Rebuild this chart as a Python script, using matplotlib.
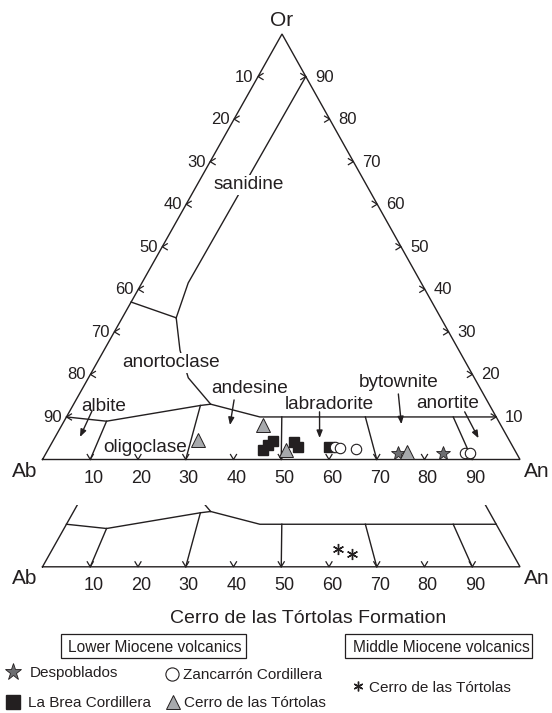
import matplotlib
matplotlib.use("Agg")
import matplotlib.pyplot as plt
import numpy as np
from matplotlib.patches import Rectangle

plt.rcParams["font.family"] = ["Liberation Sans", "DejaVu Sans"]

INK = "#231f20"

# ternary corners, in figure pixels (Ab, An, Or)
AB = (42.5, 459.5)
AN = (520.0, 459.5)
OR = (282.0, 34.0)
STRIP_DY = 107.3  # enlarged strip below the triangle
STRIP_TOP = 505.0

tick_values = [10, 20, 30, 40, 50, 60, 70, 80, 90]

# field boundaries (An %, Or %)
sanidine_an = [10.0, 9.7, 11.3]
sanidine_or = [90.0, 41.5, 33.3]
anortho_left_an = [0.0, 11.3]
anortho_left_or = [37.0, 33.3]
anortho_down_an = [11.3, 15.9, 20.9, 28.7]
anortho_down_or = [33.3, 25.7, 19.2, 13.0]
plag_top_an = [0.0, 8.9, 26.7, 28.7, 40.5, 90.0]
plag_top_or = [10.0, 9.0, 12.7, 13.0, 10.0, 10.0]
divider_an = [(8.9, 10.0), (26.7, 30.0), (45.1, 50.0), (62.6, 70.0), (81.0, 90.0)]
divider_or = [(9.0, 0.0), (12.7, 0.0), (10.0, 0.0), (10.0, 0.0), (10.0, 0.0)]

# label pointer arrows (start -> end), An %, Or %
pointer_an = [(4.65, 5.2), (33.1, 35.2), (52.4, 55.5), (66.8, 71.0), (82.8, 88.8)]
pointer_or = [(11.4, 5.3), (14.0, 8.1), (11.2, 5.05), (15.4, 8.3), (11.2, 5.0)]

# samples (An %, Or %)
despoblados_an = [73.7, 83.1]
despoblados_or = [1.6, 1.5]
zancarron_an = [59.8, 61.0, 64.5, 87.8, 88.8]
zancarron_or = [3.0, 2.6, 2.4, 1.5, 1.5]
labrea_an = [45.1, 45.5, 46.1, 50.6, 52.0, 58.5]
labrea_or = [2.2, 3.4, 4.3, 4.1, 2.9, 2.9]
tortolas_low_an = [30.3, 42.2, 49.8, 75.4]
tortolas_low_or = [4.6, 8.1, 2.2, 1.8]
tortolas_mid_an = [59.8, 63.3]
tortolas_mid_or = [4.3, 3.0]


def tern(an, orr, dy=0.0):
    a = np.asarray(an, dtype=float) / 100.0
    o = np.asarray(orr, dtype=float) / 100.0
    x = AB[0] + a * (AN[0] - AB[0]) + o * (OR[0] - AB[0])
    y = AB[1] + a * (AN[1] - AB[1]) + o * (OR[1] - AB[1]) + dy
    return x, y


fig = plt.figure(figsize=(5.52, 7.13), dpi=100)
ax = fig.add_axes([0, 0, 1, 1])
ax.set_xlim(0, 552)
ax.set_ylim(713, 0)
ax.axis("off")

strip_clip = Rectangle((0, STRIP_TOP), 552, 713 - STRIP_TOP, transform=ax.transData)


def line(an, orr, dy=0.0, clip=None):
    x, y = tern(an, orr, dy)
    ln, = ax.plot(x, y, color=INK, lw=1.0, solid_joinstyle="miter", zorder=2)
    if clip is not None:
        ln.set_clip_path(clip)


def chevron(x, y, d1, d2):
    ax.plot([x + d1[0], x, x + d2[0]], [y + d1[1], y, y + d2[1]],
            color=INK, lw=0.9, zorder=2)


def draw_fields(dy=0.0, clip=None):
    line([0, 100, 0, 0], [0, 0, 100, 0], dy, clip)
    line(plag_top_an, plag_top_or, dy, clip)
    line(anortho_down_an, anortho_down_or, dy, clip)
    for a, o in zip(divider_an, divider_or):
        line(a, o, dy, clip)
    for t in tick_values:
        x, y = tern(t, 0, dy)
        chevron(x, y, (-3, -5), (3, -5))
        ax.text(x + 3, y + 23.3, str(t), ha="center", va="baseline",
                fontsize=13, color=INK)
    ax.text(25, AB[1] + dy + 17.2, "Ab", ha="center", va="baseline",
            fontsize=15, color=INK)
    ax.text(537, AN[1] + dy + 17.2, "An", ha="center", va="baseline",
            fontsize=15, color=INK)


# main triangle
draw_fields()
line(sanidine_an, sanidine_or)
line(anortho_left_an, anortho_left_or)
ax.text(OR[0], 26, "Or", ha="center", va="baseline", fontsize=15, color=INK)

for t in tick_values:
    # left edge (Ab %), right edge (Or %)
    x, y = tern(0, 100 - t)
    chevron(x, y, (5, -3), (5, 3))
    ax.text(x - 4.5, y + 5, str(t), ha="right", va="baseline", fontsize=12, color=INK)
    x, y = tern(100 - t, t)
    chevron(x, y, (-5, -3), (-5, 3))
    ax.text(x + 9, y + 5, str(t), ha="left", va="baseline", fontsize=12, color=INK)

for a, o in zip(pointer_an, pointer_or):
    x, y = tern(a, o)
    ax.annotate("", xy=(x[1], y[1]), xytext=(x[0], y[0]),
                arrowprops=dict(arrowstyle="-|>,head_length=0.55,head_width=0.22",
                                color=INK, lw=1.0, mutation_scale=8,
                                shrinkA=0, shrinkB=0), zorder=2)

white = dict(facecolor="white", edgecolor="none", pad=1.0)
field_labels = [
    ("sanidine", 248.3, 189.3, white),
    ("anortoclase", 170.7, 367.3, white),
    ("andesine", 249.5, 393.3, None),
    ("albite", 103.3, 410.7, None),
    ("labradorite", 329.0, 409.3, None),
    ("bytownite", 398.6, 387.0, None),
    ("anortite", 447.7, 408.3, None),
    ("oligoclase", 145.0, 451.7, None),
]
for txt, x, y, bb in field_labels:
    ax.text(x, y, txt, ha="center", va="baseline", fontsize=13.7, color=INK,
            bbox=bb, zorder=3)

# samples
x, y = tern(labrea_an, labrea_or)
ax.plot(x, y, "s", ms=7.8, color=INK, ls="none", zorder=4)
x, y = tern(despoblados_an, despoblados_or)
ax.plot(x, y, "*", ms=10.5, mfc="#6d6e71", mec=INK, mew=0.6, ls="none", zorder=5)
x, y = tern(zancarron_an, zancarron_or)
for xi, yi in zip(x, y):
    ax.plot(xi, yi, "o", ms=7.5, mfc="white", mec=INK, mew=0.8, zorder=6)
x, y = tern(tortolas_low_an, tortolas_low_or)
ax.plot(x, y, "^", ms=9.5, mfc="#a7a9ac", mec=INK, mew=0.7, ls="none", zorder=7)

# enlarged strip
draw_fields(STRIP_DY, strip_clip)
x, y = tern(tortolas_mid_an, tortolas_mid_or, STRIP_DY)
ax.plot(x, y, marker=(6, 2, 0), ms=8, color=INK, mew=1.0, ls="none", zorder=5)

# legend
ax.text(308.4, 622.7, "Cerro de las Tórtolas Formation", ha="center", va="baseline",
        fontsize=14, color=INK)
ax.add_patch(Rectangle((61, 634.3), 184.7, 24, fill=False, ec=INK, lw=0.9))
ax.add_patch(Rectangle((345, 634.3), 187, 24, fill=False, ec=INK, lw=0.9))
ax.text(155, 652, "Lower Miocene volcanics", ha="center", va="baseline",
        fontsize=11.2, color=INK)
ax.text(441, 652, "Middle Miocene volcanics", ha="center", va="baseline",
        fontsize=11.2, color=INK)

ax.plot(12.7, 672.3, "*", ms=12.5, mfc="#6d6e71", mec=INK, mew=0.6)
ax.text(29.3, 677.3, "Despoblados", va="baseline", fontsize=11, color=INK)
ax.plot(171.7, 673.5, "o", ms=9.5, mfc="white", mec=INK, mew=0.8)
ax.text(183.3, 679, "Zancarrón Cordillera", va="baseline", fontsize=11, color=INK)
ax.plot(13.3, 702.3, "s", ms=9.5, color=INK)
ax.text(28.3, 707.3, "La Brea Cordillera", va="baseline", fontsize=11, color=INK)
ax.plot(173.3, 702.3, "^", ms=10.5, mfc="#a7a9ac", mec=INK, mew=0.7)
ax.text(184, 707.3, "Cerro de las Tórtolas", va="baseline", fontsize=11, color=INK)
ax.plot(357.7, 686, marker=(6, 2, 0), ms=7, color=INK, mew=1.0)
ax.text(368.7, 691.7, "Cerro de las Tórtolas", va="baseline", fontsize=11, color=INK)

fig.savefig("out.png", dpi=100)
